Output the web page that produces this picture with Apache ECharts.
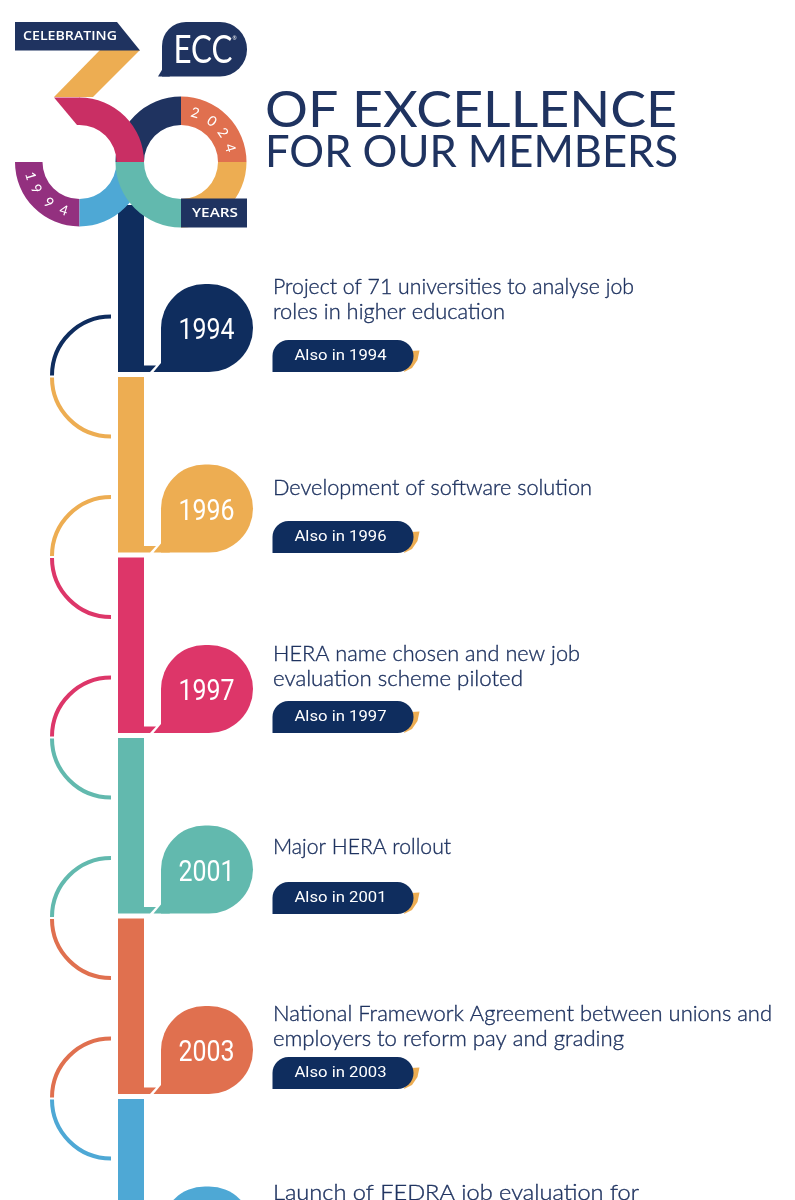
<!DOCTYPE html>
<html><head><meta charset="utf-8">
<style>html,body{margin:0;padding:0;background:#fff}#c{width:795px;height:1200px}</style>
<script src="https://cdn.jsdelivr.net/npm/echarts@6/dist/echarts.min.js"></script>
</head><body><div id="c"></div>
<script>
// ---- content ----
const years = ['1994','1996','1997','2001','2003',''];
const descriptions = [
  ['Project of 71 universities to analyse job','roles in higher education'],
  ['Development of software solution'],
  ['HERA name chosen and new job','evaluation scheme piloted'],
  ['Major HERA rollout'],
  ['National Framework Agreement between unions and','employers to reform pay and grading'],
  ['Launch of FEDRA job evaluation for']
];
const alsoLabels = ['Also in 1994','Also in 1996','Also in 1997','Also in 2001','Also in 2003',''];
const titleLines = ['OF EXCELLENCE','FOR OUR MEMBERS'];
const startYear = '1994', endYear = '2024';

// ---- styles ----
const rowColors = ['#0f2d5e','#edad52','#dd3669','#62b9ae','#e0704f','#4ea8d5'];
const INK = '#1f3360', PILL = '#0f2d5e';
const rowIndex = years.map((_, i) => i);

// ---- layout (design units on the hidden pixel-scale axes) ----
const ROW0 = 372, ROWSTEP = 180.5;
const descTop = [287,488,654,847,1014,1193];
const lineW = [[361,232],[319],[307,250],[178],[499,351],[366]];
const pillBottom = [372,553,733,914,1089,0];
const bottoms = rowIndex.map(i => ROW0 + i * ROWSTEP);

const mctx = document.createElement('canvas').getContext('2d');
function fit(s, x, y, font, w, fill, align, hair) {
  mctx.font = font;
  const sx = w ? w / mctx.measureText(s).width : 1;
  const style = {text:s, font, fill, textAlign:align||'left', textVerticalAlign:'middle'};
  if (hair) { style.stroke = fill; style.lineWidth = hair; }
  return {type:'text', x, y, scaleX:sx, scaleY:1, silent:true, style};
}

function renderRow(params, api) {
  const i = params.dataIndex;
  const P = (x, y) => api.coord([x, y]);
  const base = api.value(1);
  const col = rowColors[i], next = rowColors[i + 1];
  const kids = [];
  const poly = (pts, fill) => ({type:'polygon', shape:{points:pts.map(p => P(p[0], p[1]))}, style:{fill}});
  const rect = (x, y, w, h, r, fill) => { const a = P(x, y); return {type:'rect', shape:{x:a[0], y:a[1], width:w, height:h, r}, style:{fill}}; };
  const arc = (y, s, e, c) => { const a = P(111, y);
    return {type:'arc', shape:{cx:a[0], cy:a[1], r:59, startAngle:s, endAngle:e, clockwise:true}, style:{stroke:c, fill:null, lineWidth:4, lineCap:'butt'}}; };
  const top = i === 0 ? 205 : base - ROWSTEP + 5;
  kids.push(rect(118, top, 26, base - top, 0, col));
  kids.push(poly([[144,base-6.5],[156,base-6.5],[150,base],[144,base]], col));
  kids.push(rect(161, base-88, 92, 88, [44,44,44,0], col));
  kids.push(poly([[153.5,base],[161,base-9],[170,base]], col));
  if (years[i]) kids.push(fit(years[i], 206.5, base-40, '400 29px Roboto', 56, '#fff', 'center'));
  if (i < rowColors.length - 1) {
    const j = base + 4.5;
    kids.push(arc(j - 1, Math.PI, Math.PI * 1.5, col));
    kids.push(arc(j + 1, Math.PI * 0.5, Math.PI, next));
  }
  const yy = descTop[i];
  descriptions[i].forEach((t, k) => kids.push(fit(t, 273, yy + k * 25, '300 21px Lato', lineW[i][k], INK, 'left', 0.35)));
  if (alsoLabels[i]) {
    const b = pillBottom[i];
    kids.push(poly([[411,b-21],[419.5,b-21.5],[417.5,b-12],[412,b-4],[404,b]], '#edad52'));
    kids.push(rect(272.5, b-32, 141, 32, [16,16,16,0], PILL));
    kids.push(fit(alsoLabels[i], 340.5, b-15.5, '400 14.5px Roboto', 92, '#fff', 'center'));
  }
  return {type:'group', children:kids};
}

function renderLogo(params, api) {
  const P = (x, y) => api.coord([x, y]);
  const poly = (pts, fill) => ({type:'polygon', shape:{points:pts.map(p => P(p[0], p[1]))}, style:{fill}});
  const rad = d => d * Math.PI / 180;
  const ring = (cx, r, s, e, fill) => { const c = P(cx, 162);
    return {type:'sector', shape:{cx:c[0], cy:c[1], r0:37, r, startAngle:rad(s), endAngle:rad(e), clockwise:true}, style:{fill}}; };
  const rect = (x, y, w, h, r, fill) => { const a = P(x, y); return {type:'rect', shape:{x:a[0], y:a[1], width:w, height:h, r}, style:{fill}}; };
  const arcText = (str, cx, angles, up) => Array.from(str).map((ch, k) => {
    const t = rad(angles[k]), p = P(cx + 51 * Math.cos(t), 162 + 51 * Math.sin(t));
    return {type:'text', x:p[0], y:p[1], rotation:-rad(angles[k] - up), silent:true,
      style:{text:ch, font:'400 14px Lato', fill:'#fff', textAlign:'center', textVerticalAlign:'middle'}};
  });
  const kids = [
    // right ring
    ring(181, 65.5, 180, 270, INK), ring(181, 65.5, 270, 360, '#e0704f'), ring(181, 65.5, 0, 90, '#edad52'),
    // left ring
    ring(79.5, 64.5, 90, 180, '#93307f'), ring(79.5, 64.5, 0, 90, '#4ea8d5'),
    ring(181, 65.5, 90, 180, '#62b9ae'),
    // top bowl of the 3 and its diagonal
    poly([[100,50],[140,50],[93,97],[54,97]], '#edad52'),
    ring(79.5, 64.5, 270, 360, '#c92f64'),
    poly([[54,97.5],[80,97.5],[80,125],[77,125]], '#c92f64'),
    // banners
    poly([[15,22],[117,22],[140,50.5],[15,50.5]], INK),
    fit('CELEBRATING', 23, 36.5, '600 12.5px "Open Sans"', 94, '#fff'),
    rect(181, 198.5, 66, 29, 0, INK),
    fit('YEARS', 192, 213.5, '600 12.5px "Open Sans"', 46, '#fff'),
    // ECC bubble
    rect(162, 22, 85, 54.5, [24,27,27,0], INK),
    poly([[158,76.5],[162.5,69],[170,76.5]], INK),
    fit('ECC', 173.5, 50.5, '400 38px Lato', 59, '#fff'),
    fit('®', 232.5, 38.5, '400 5px Lato', 0, '#fff'),
    // heading
    fit(titleLines[0], 265, 111, '400 51px Lato', 412, INK),
    fit(titleLines[1], 265, 152.5, '400 44px Lato', 413, INK)
  ].concat(arcText(startYear, 79.5, [164,148,127,108], 90), arcText(endYear, 181, [-74,-53,-35,-16], -90));
  return {type:'group', children:kids};
}

const chart = echarts.init(document.getElementById('c'), null, {renderer:'canvas', width:795, height:1200});
chart.setOption({
  animation:false, backgroundColor:'#fff',
  grid:{left:0, right:0, top:0, bottom:0},
  xAxis:{type:'value', min:0, max:795, show:false},
  yAxis:{type:'value', min:0, max:1200, inverse:true, show:false},
  series:[
    {type:'custom', clip:false, renderItem:renderRow, encode:{x:0, y:1},
     data:rowIndex.map(i => [131, bottoms[i]])},
    {type:'custom', clip:false, renderItem:renderLogo, encode:{x:0, y:1}, data:[[131, 162]]}
  ]
});
</script></body></html>
